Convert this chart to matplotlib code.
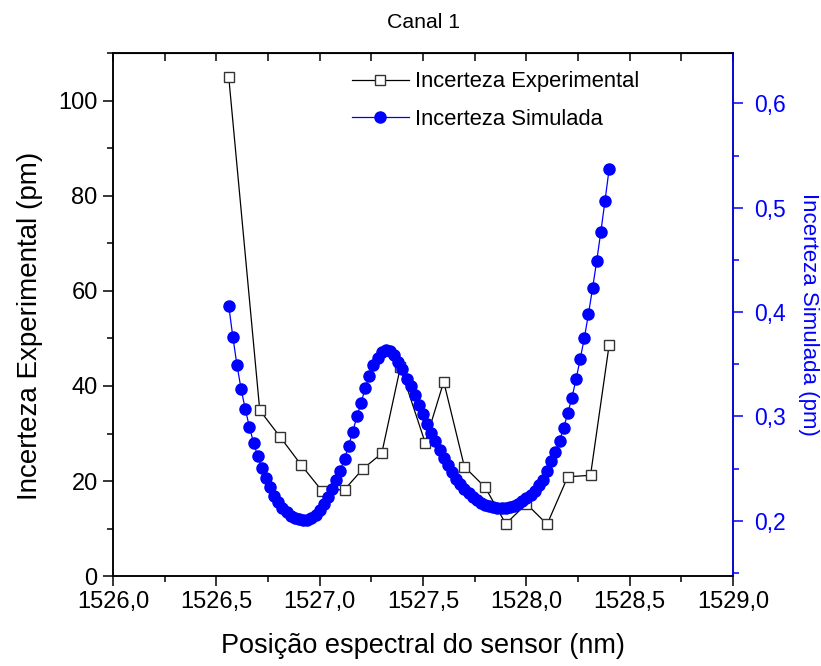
import matplotlib
matplotlib.use("Agg")
import matplotlib.pyplot as plt
from matplotlib.ticker import MultipleLocator, FuncFormatter

plt.rcParams["font.family"] = ["Liberation Sans", "DejaVu Sans"]

# experimental uncertainty (left axis, pm)
x_exp = [1526.56, 1526.71, 1526.81, 1526.91, 1527.01, 1527.12, 1527.21,
         1527.30, 1527.39, 1527.51, 1527.60, 1527.70, 1527.80, 1527.90,
         1528.00, 1528.10, 1528.20, 1528.31, 1528.40]
y_exp = [105.0, 34.9, 29.2, 23.4, 18.0, 18.2, 22.6, 25.8, 43.9, 28.1,
         40.9, 23.0, 18.7, 11.0, 15.2, 10.9, 20.9, 21.2, 48.6]

# simulated uncertainty (right axis, pm)
x_sim = [1526.56, 1526.58, 1526.60, 1526.62, 1526.64, 1526.66, 1526.68, 1526.70, 1526.72, 1526.74,
         1526.76, 1526.78, 1526.80, 1526.82, 1526.84, 1526.86, 1526.88, 1526.90, 1526.92, 1526.94,
         1526.96, 1526.98, 1527.00, 1527.02, 1527.04, 1527.06, 1527.08, 1527.10, 1527.12, 1527.14,
         1527.16, 1527.18, 1527.20, 1527.22, 1527.24, 1527.26, 1527.28, 1527.30, 1527.32, 1527.34,
         1527.36, 1527.38, 1527.40, 1527.42, 1527.44, 1527.46, 1527.48, 1527.50, 1527.52, 1527.54,
         1527.56, 1527.58, 1527.60, 1527.62, 1527.64, 1527.66, 1527.68, 1527.70, 1527.72, 1527.74,
         1527.76, 1527.78, 1527.80, 1527.82, 1527.84, 1527.86, 1527.88, 1527.90, 1527.92, 1527.94,
         1527.96, 1527.98, 1528.00, 1528.02, 1528.04, 1528.06, 1528.08, 1528.10, 1528.12, 1528.14,
         1528.16, 1528.18, 1528.20, 1528.22, 1528.24, 1528.26, 1528.28, 1528.30, 1528.32, 1528.34,
         1528.36, 1528.38, 1528.40]
y_sim = [0.406, 0.376, 0.349, 0.326, 0.307, 0.290, 0.275, 0.262, 0.251, 0.241,
         0.232, 0.224, 0.218, 0.212, 0.208, 0.205, 0.203, 0.2015, 0.2005, 0.201,
         0.203, 0.206, 0.210, 0.2165, 0.223, 0.2305, 0.239, 0.248, 0.2595, 0.272,
         0.2855, 0.300, 0.313, 0.327, 0.339, 0.349, 0.356, 0.3615, 0.364, 0.363,
         0.359, 0.352, 0.345, 0.336, 0.329, 0.3205, 0.311, 0.302, 0.2925, 0.284,
         0.276, 0.268, 0.260, 0.2535, 0.247, 0.2405, 0.235, 0.2305, 0.2265, 0.223,
         0.220, 0.217, 0.215, 0.214, 0.213, 0.2125, 0.212, 0.212, 0.213, 0.2145,
         0.216, 0.2185, 0.2215, 0.225, 0.229, 0.234, 0.239, 0.248, 0.257, 0.266,
         0.2765, 0.289, 0.303, 0.318, 0.3355, 0.355, 0.375, 0.398, 0.423, 0.449,
         0.477, 0.5065, 0.537]

BLUE = "#0000ff"


def comma(v, pos):
    return f"{v:.1f}".replace(".", ",")


fig = plt.figure(figsize=(8.21, 6.66), dpi=100)
fig.subplots_adjust(left=0.1376, right=0.893, bottom=0.135, top=0.920)
ax = fig.add_subplot(111)
ax2 = ax.twinx()

l1, = ax.plot(x_exp, y_exp, "-", color="black", lw=0.9, marker="s", ms=6.5,
              mfc="white", mec="#333333", mew=1.0, label="Incerteza Experimental")
l2, = ax2.plot(x_sim, y_sim, "-", color=BLUE, lw=0.9, marker="o", ms=8,
               mfc=BLUE, mec=BLUE, label="Incerteza Simulada")

ax.set_xlim(1526.0, 1529.0)
ax.set_ylim(0, 110)
ax2.set_ylim(0.147, 0.648)

ax.xaxis.set_major_locator(MultipleLocator(0.5))
ax.xaxis.set_minor_locator(MultipleLocator(0.25))
ax.xaxis.set_major_formatter(FuncFormatter(comma))
ax.yaxis.set_major_locator(MultipleLocator(20))
ax.yaxis.set_minor_locator(MultipleLocator(10))
ax2.yaxis.set_major_locator(MultipleLocator(0.1))
ax2.yaxis.set_minor_locator(MultipleLocator(0.05))
ax2.yaxis.set_major_formatter(FuncFormatter(comma))

for a in (ax, ax2):
    for s in a.spines.values():
        s.set_linewidth(1.1)
ax2.spines["right"].set_color(BLUE)

ax.tick_params(which="major", direction="out", length=7, width=1.1, labelsize=17, pad=4)
ax.tick_params(which="minor", direction="out", length=4, width=1.1)
ax2.tick_params(which="major", direction="out", length=7, width=1.1, labelsize=16.5,
                colors=BLUE, pad=8)
ax2.tick_params(which="minor", direction="out", length=4, width=1.1, colors=BLUE)

top = ax.secondary_xaxis("top")
top.xaxis.set_major_locator(MultipleLocator(0.5))
top.xaxis.set_minor_locator(MultipleLocator(0.25))
top.tick_params(which="both", direction="in", length=6, width=1.1, labeltop=False)

ax.set_xlabel("Posição espectral do sensor (nm)", fontsize=19.5)
ax.xaxis.set_label_coords(0.5, -0.108)
ax.set_ylabel("Incerteza Experimental (pm)", fontsize=20)
ax.yaxis.set_label_coords(-0.113, 0.478)
ax2.set_ylabel("Incerteza Simulada (pm)", fontsize=16, color=BLUE, rotation=270,
               va="center")
ax2.yaxis.set_label_coords(1.122, 0.5)
ax.set_title("Canal 1", fontsize=15.3, pad=18)

ax.legend(handles=[l1, l2], loc="upper left", bbox_to_anchor=(0.36, 0.995),
          frameon=False, fontsize=15.8, handlelength=2.6, handletextpad=0.3,
          labelspacing=0.75, borderaxespad=0.3)

fig.savefig("out.png", dpi=100)
